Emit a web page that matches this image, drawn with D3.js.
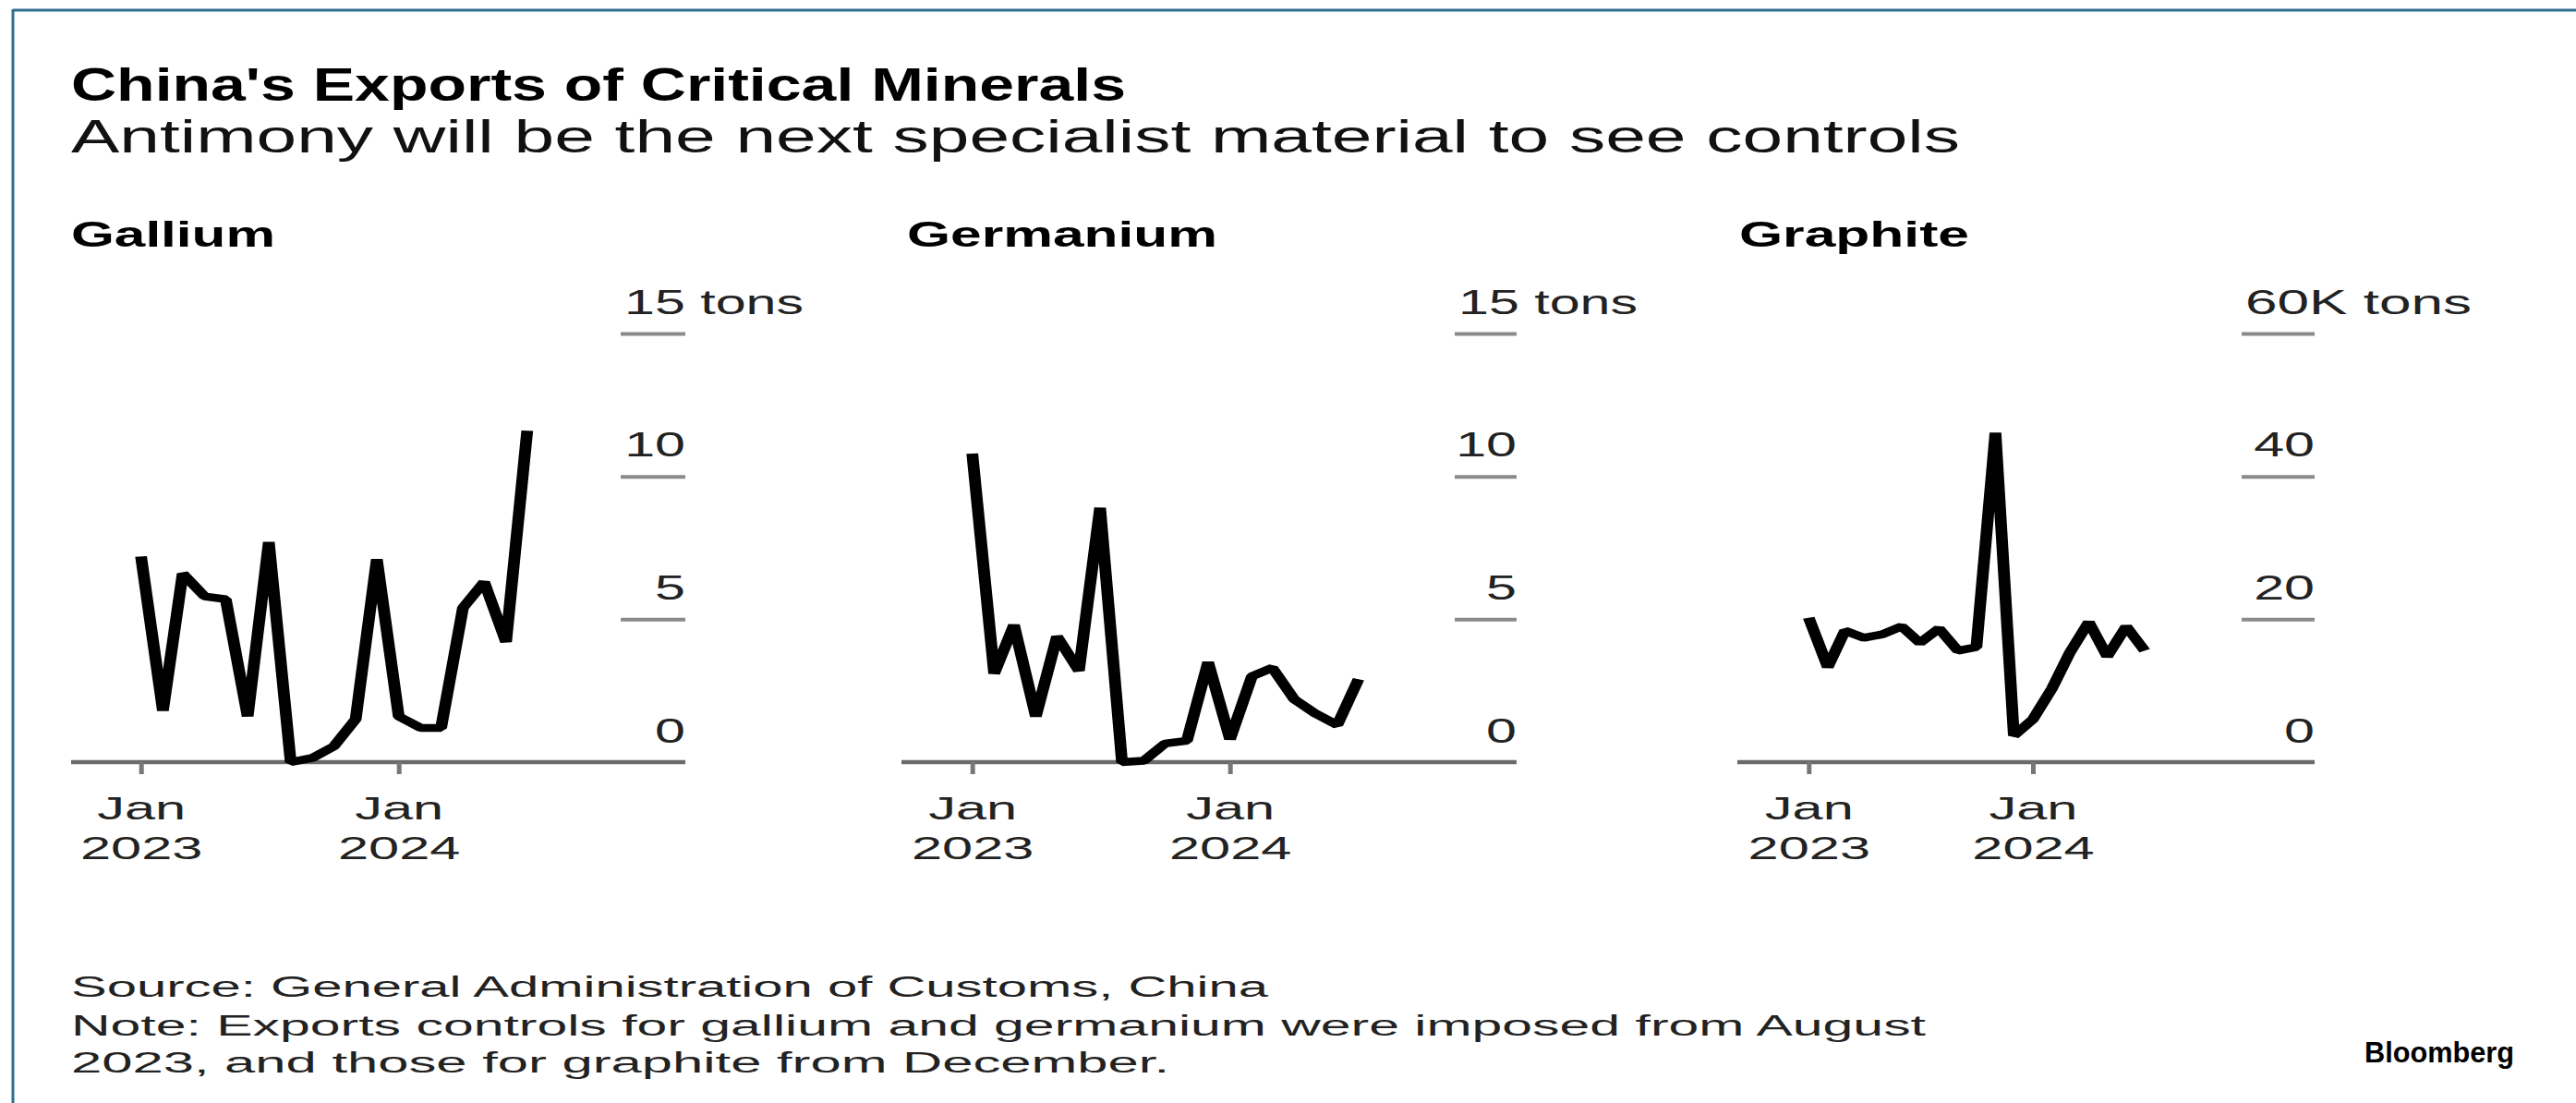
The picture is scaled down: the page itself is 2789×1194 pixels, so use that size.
<!DOCTYPE html>
<html>
<head>
<meta charset="utf-8">
<script src="https://cdn.jsdelivr.net/npm/d3@7"></script>
<style>
  html, body { margin: 0; padding: 0; background: #fff; }
  svg { display: block; }
  text { font-family: "Liberation Sans", Arial, Helvetica, sans-serif; }
</style>
</head>
<body>
<svg id="chart" width="2789" height="1194"></svg>
<script>
// Monthly exports, Jan 2023 – Jul 2024
const months = ["2023-01","2023-02","2023-03","2023-04","2023-05","2023-06","2023-07","2023-08","2023-09","2023-10","2023-11","2023-12",
                "2024-01","2024-02","2024-03","2024-04","2024-05","2024-06","2024-07"];
// tons
const gallium   = [7.2, 1.8, 6.6, 5.8, 5.7, 1.6, 7.7, 0.0, 0.15, 0.55, 1.5, 7.1, 1.6, 1.2, 1.2, 5.4, 6.3, 4.2, 11.6];
// tons
const germanium = [10.8, 3.1, 4.8, 1.6, 4.4, 3.2, 8.9, 0.0, 0.05, 0.65, 0.75, 3.5, 0.8, 3.0, 3.3, 2.2, 1.7, 1.3, 2.9];
// thousand tons
const graphite  = [20.2, 13.3, 18.4, 17.4, 17.9, 19.0, 16.7, 18.7, 15.6, 16.1, 46.1, 3.7, 6.0, 10.3, 15.3, 19.6, 14.8, 19.0, 15.6];

const panelNames     = ["Gallium", "Germanium", "Graphite"];
const unitLabels     = [" tons", " tons", "K tons"];
const galliumTicks   = [0, 5, 10, 15];
const germaniumTicks = [0, 5, 10, 15];
const graphiteTicks  = [0, 20, 40, 60];
const xTickMonths    = ["2023-01", "2024-01"];
const xTickLines     = [["Jan", "2023"], ["Jan", "2024"]];

const titleText    = "China's Exports of Critical Minerals";
const subtitleText = "Antimony will be the next specialist material to see controls";
const footerLines  = ["Source: General Administration of Customs, China",
                      "Note: Exports controls for gallium and germanium were imposed from August",
                      "2023, and those for graphite from December."];
const brandText    = "Bloomberg";

// ---------------------------------------------------------------
const W = 2789, H = 1194;
const S = 1.5;               // horizontal stretch of the line marks
const parse = d3.timeParse("%Y-%m");
const dates = months.map(parse);

const svg = d3.select("#chart");
svg.append("rect").attr("width", W).attr("height", H).attr("fill", "#fff");

// frame
svg.append("line").attr("x1", 14).attr("x2", W).attr("y1", 11).attr("y2", 11)
   .attr("stroke", "#2f6f8f").attr("stroke-width", 3);
svg.append("line").attr("x1", 14).attr("x2", 14).attr("y1", 10).attr("y2", H)
   .attr("stroke", "#2f6f8f").attr("stroke-width", 3);

function fit(sel, w) {
  sel.attr("textLength", w).attr("lengthAdjust", "spacingAndGlyphs");
}
function widen(sel, k) {
  sel.each(function () {
    const n = this.getComputedTextLength();
    d3.select(this).attr("textLength", n * k).attr("lengthAdjust", "spacingAndGlyphs");
  });
}

// headings
svg.append("text").attr("x", 77).attr("y", 109).attr("font-size", 50).attr("font-weight", "bold")
   .attr("fill", "#000").text(titleText).call(fit, 1142);
svg.append("text").attr("x", 77).attr("y", 165).attr("font-size", 50)
   .attr("fill", "#111").text(subtitleText).call(fit, 2045);

const panels = [
  { name: panelNames[0], values: gallium,   ticks: galliumTicks,   unit: unitLabels[0],
    titleX: 77,   titleW: 221, left: 77,   jan23: 152.7,  jan24: 431.7, stub0: 672,  stub1: 742,  topW: 194 },
  { name: panelNames[1], values: germanium, ticks: germaniumTicks, unit: unitLabels[1],
    titleX: 982,  titleW: 336, left: 976,  jan23: 1052.7, jan24: 1331.7, stub0: 1575, stub1: 1642, topW: 194 },
  { name: panelNames[2], values: graphite,  ticks: graphiteTicks,  unit: unitLabels[2],
    titleX: 1883, titleW: 249, left: 1881, jan23: 1958.3, jan24: 2201,  stub0: 2427, stub1: 2506, topW: 245 }
];

const yBase = 825, yTop = 361;

panels.forEach(p => {
  const g = svg.append("g");

  g.append("text").attr("x", p.titleX).attr("y", 267).attr("font-size", 38.5).attr("font-weight", "bold")
   .attr("fill", "#000").text(p.name).call(fit, p.titleW);

  const x = d3.scaleTime().domain([parse("2023-01"), parse("2024-01")]).range([p.jan23, p.jan24]);
  const y = d3.scaleLinear().domain([0, d3.max(p.ticks)]).range([yBase, yTop]);

  // baseline
  g.append("line").attr("x1", p.left).attr("x2", p.stub1).attr("y1", y(0)).attr("y2", y(0))
   .attr("stroke", "#6b6b6b").attr("stroke-width", 4.5);

  // value axis: short stubs at the right with labels sitting above them
  const stubLen = p.stub1 - p.stub0;
  const top = d3.max(p.ticks);
  const ya = g.append("g").attr("transform", `translate(${p.stub0},0)`)
    .call(d3.axisRight(y).tickValues(p.ticks).tickSize(stubLen).tickFormat(d => d === top ? d + p.unit : d));
  ya.attr("font-size", null).attr("font-family", null);
  ya.select(".domain").remove();
  ya.selectAll(".tick line")
    .attr("stroke", d => d === 0 ? "none" : "#8a8a8a").attr("stroke-width", 4);
  ya.selectAll(".tick text")
    .attr("font-size", 37).attr("fill", "#222")
    .attr("dy", null).attr("y", -22)
    .attr("x", d => d === top ? 4 : stubLen)
    .attr("text-anchor", d => d === top ? "start" : "end")
    .each(function (d) {
      const t = d3.select(this);
      if (d === top) fit(t, p.topW); else widen(t, 1.6);
    });

  // time axis
  const xa = g.append("g").attr("transform", `translate(0,${y(0)})`)
    .call(d3.axisBottom(x).tickValues(xTickMonths.map(parse)).tickSize(13).tickFormat(""));
  xa.select(".domain").remove();
  xa.selectAll(".tick line").attr("stroke", "#777").attr("stroke-width", 5);
  xa.selectAll(".tick text").remove();
  xa.selectAll(".tick").each(function (d, i) {
    const t = d3.select(this);
    xTickLines[i].forEach((s, j) => {
      t.append("text").attr("y", j === 0 ? 62 : 105).attr("text-anchor", "middle")
       .attr("font-size", 35).attr("fill", "#222").text(s).call(widen, 1.7);
    });
  });

  // series line
  const line = d3.line().x((d, i) => x(dates[i]) / S).y(d => y(d));
  g.append("g").attr("transform", `scale(${S},1)`)
   .append("path").datum(p.values).attr("d", line)
   .attr("fill", "none").attr("stroke", "#000").attr("stroke-width", 8.5)
   .attr("stroke-linejoin", "bevel").attr("stroke-linecap", "butt");
});

// footer
const footerY = [1079, 1121, 1161];
const footerW = [1296, 2008, 1189];
footerLines.forEach((s, i) => {
  svg.append("text").attr("x", 77).attr("y", footerY[i]).attr("font-size", 31)
     .attr("fill", "#222").text(s).call(fit, footerW[i]);
});
svg.append("text").attr("x", 2722).attr("y", 1150).attr("text-anchor", "end")
   .attr("font-size", 32).attr("font-weight", "bold").attr("fill", "#000")
   .text(brandText).call(fit, 162);
</script>
</body>
</html>
